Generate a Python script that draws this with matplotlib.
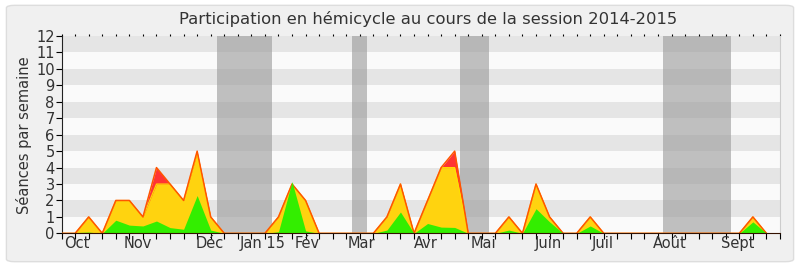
import numpy as np
from matplotlib import pyplot as plt
from matplotlib.patches import FancyBboxPatch

# weekly values, week 0 .. 52
total = [0, 0, 1, 0, 2, 2, 1, 4, 3, 2, 5, 1, 0, 0, 0, 0, 1, 3, 2, 0,
         0, 0, 0, 0, 1, 3, 0, 2, 4, 5, 0, 0, 0, 1, 0, 3, 1, 0, 0, 1,
         0, 0, 0, 0, 0, 0, 0, 0, 0, 0, 0, 1, 0]
yellow = [0, 0, 1, 0, 2, 2, 1, 3, 3, 2, 4.9, 1, 0, 0, 0, 0, 1, 3, 2, 0,
          0, 0, 0, 0, 1, 3, 0, 2, 4, 4, 0, 0, 0, 1, 0, 3, 1, 0, 0, 1,
          0, 0, 0, 0, 0, 0, 0, 0, 0, 0, 0, 1, 0]
green = [0, 0.05, 0.08, 0, 0.8, 0.5, 0.45, 0.75, 0.35, 0.25, 2.3, 0.2, 0, 0, 0, 0, 0.1, 3.15, 0.15, 0,
         0, 0, 0, 0, 0.2, 1.3, 0, 0.6, 0.38, 0.36, 0, 0, 0, 0.2, 0, 1.5, 0.7, 0, 0, 0.45,
         0, 0, 0, 0, 0, 0, 0, 0, 0, 0, 0, 0.7, 0]

vacances = [(11.5, 15.5), (21.4, 22.5), (29.4, 31.5), (44.4, 49.4)]

mois = ['Oct', 'Nov', 'Déc', 'Jan 15', 'Fév', 'Mar', 'Avr', 'Mai', 'Juin', 'Juil', 'Août', 'Sept']
mois_pos = [1.1, 5.6, 10.9, 14.8, 18.15, 22.1, 26.9, 31.1, 35.9, 39.9, 44.9, 49.9]


def main():
    weeks = np.arange(len(total))

    fig = plt.figure(figsize=(8, 2.67), dpi=100)
    fig.patch.set_facecolor('white')
    fig.patches.append(FancyBboxPatch((0.008, 0.02), 0.984, 0.96,
                                      boxstyle='round,pad=0,rounding_size=0.01',
                                      transform=fig.transFigure, facecolor='#f0f0f0',
                                      edgecolor='#dddddd', linewidth=1, zorder=-10))
    ax = fig.add_axes([0.077, 0.126, 0.898, 0.739])
    ax.set_facecolor('#fafafa')

    for k in range(1, 12, 2):
        ax.axhspan(k, k + 1, color='#e5e5e5', lw=0, zorder=0)
    for a, b in vacances:
        ax.axvspan(a, b, color='#999999', alpha=0.6, lw=0, zorder=1)

    ax.fill_between(weeks, 0, total, color='#ff3333', lw=0, zorder=2)
    ax.fill_between(weeks, 0, yellow, color='#ffd30f', lw=0, zorder=3)
    ax.plot(weeks, yellow, color='#ffe000', lw=0.8, zorder=4)
    ax.plot(weeks, total, color='#ff5500', lw=1.1, zorder=5)
    ax.fill_between(weeks, 0, green, color='#33ee00', lw=0, zorder=6)

    ax.set_xlim(0, 53)
    ax.set_ylim(0, 12)
    ax.set_yticks(range(13))
    ax.set_xticks(range(54))
    ax.set_xticklabels([])
    ax.set_xticks(mois_pos, minor=True)
    ax.set_xticklabels(mois, minor=True)
    ax.tick_params(axis='x', which='major', length=4, width=0.8, top=True, direction='out')
    ax.tick_params(axis='x', which='minor', length=0, pad=2, labelsize=10.5, labelcolor='#333333')
    ax.tick_params(axis='y', length=4, width=0.8, pad=1, labelsize=10.5, labelcolor='#333333')
    for t in ax.xaxis.get_major_ticks():
        t.tick2line.set_markersize(1.5)
        t.tick2line.set_color('#333333')

    for s in ['top', 'right']:
        ax.spines[s].set_visible(False)
    ax.spines['right'].set_visible(True)
    ax.spines['right'].set_color('#cccccc')
    ax.spines['left'].set_color('#222222')
    ax.spines['bottom'].set_color('#331100')
    ax.spines['bottom'].set_zorder(7)

    ax.set_ylabel('Séances par semaine', fontsize=10.5, color='#333333', labelpad=3)
    fig.suptitle('Participation en hémicycle au cours de la session 2014-2015',
                 fontsize=11.8, color='#333333', x=0.535, y=0.96)

    fig.savefig('out.png', dpi=100)


if __name__ == "__main__":
    main()
